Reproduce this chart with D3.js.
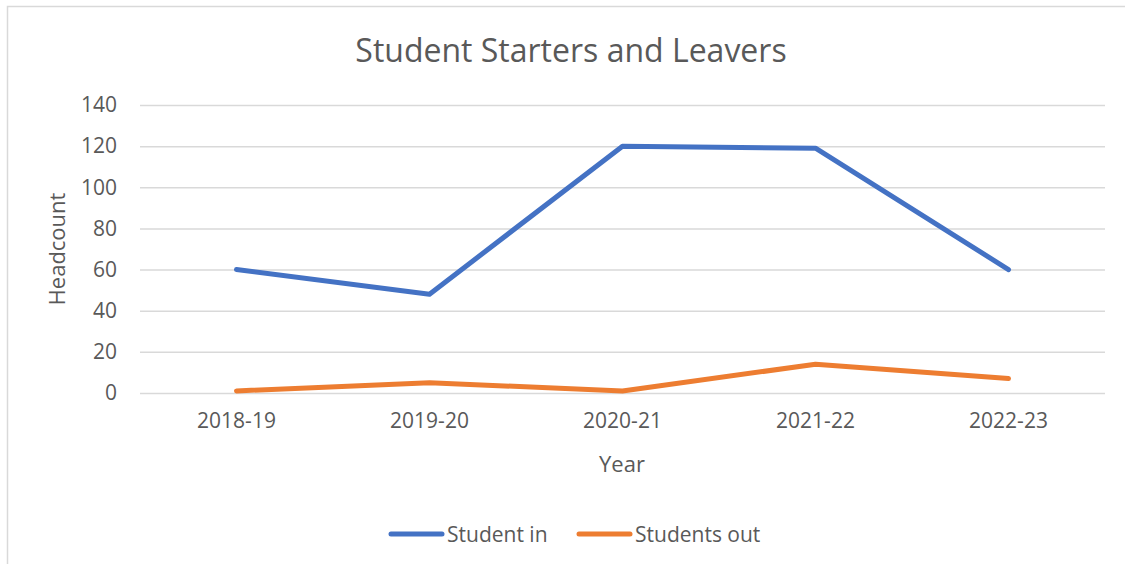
<!DOCTYPE html>
<html>
<head>
<meta charset="utf-8">
<script src="https://cdn.jsdelivr.net/npm/d3@7"></script>
<style>
  body { margin: 0; background: #fff; }
  text { font-family: "Open Sans", "Noto Sans", sans-serif; fill: #595959; }
</style>
</head>
<body>
<div id="chart"></div>
<script>
var years = ["2018-19", "2019-20", "2020-21", "2021-22", "2022-23"];
var studentIn = [60, 48, 120, 119, 60];
var studentsOut = [1, 5, 1, 14, 7];
var yTicks = [0, 20, 40, 60, 80, 100, 120, 140];

var svgWidth = 1125;
var svgHeight = 564;

var margin = { top: 105, right: 20, bottom: 171, left: 140 };
var width = 1105 - margin.left;
var height = 393 - margin.top;

var svg = d3.select("#chart")
    .append("svg")
    .attr("width", svgWidth)
    .attr("height", svgHeight);

// outer chart border (cut off at right and bottom)
svg.append("rect")
    .attr("x", 7.5)
    .attr("y", 6.5)
    .attr("width", 1200)
    .attr("height", 700)
    .attr("fill", "none")
    .attr("stroke", "#d9d9d9")
    .attr("stroke-width", 1.5);

var chartGroup = svg.append("g")
    .attr("transform", `translate(${margin.left}, ${margin.top})`);

var xScale = d3.scaleBand()
    .domain(years)
    .range([0, width]);

var yScale = d3.scaleLinear()
    .domain([0, 140])
    .range([height, 0]);

// gridlines + y tick labels
var leftAxis = d3.axisLeft(yScale)
    .tickValues(yTicks)
    .tickSize(-width)
    .tickPadding(23);

var yAxis = chartGroup.append("g").call(leftAxis);
yAxis.select(".domain").remove();
yAxis.selectAll("line").attr("stroke", "#d9d9d9").attr("stroke-width", 1.5);
yAxis.selectAll("text")
    .attr("font-size", "21px")
    .attr("fill", "#595959")
    .style("font-family", "'Open Sans', sans-serif");

// x tick labels
var bottomAxis = d3.axisBottom(xScale)
    .tickSize(0)
    .tickPadding(20);

var xAxis = chartGroup.append("g")
    .attr("transform", `translate(0, ${height})`)
    .call(bottomAxis);
xAxis.select(".domain").remove();
xAxis.selectAll("text")
    .attr("font-size", "21px")
    .attr("fill", "#595959")
    .style("font-family", "'Open Sans', sans-serif");

// lines
var line = d3.line()
    .x((d, i) => xScale(years[i]) + xScale.bandwidth() / 2)
    .y(d => yScale(d));

var series = [
    { name: "Student in", values: studentIn, color: "#4472c4" },
    { name: "Students out", values: studentsOut, color: "#ed7d31" }
];

chartGroup.selectAll(".series")
    .data(series)
    .enter()
    .append("path")
    .attr("d", d => line(d.values))
    .attr("fill", "none")
    .attr("stroke", d => d.color)
    .attr("stroke-width", 5)
    .attr("stroke-linecap", "round")
    .attr("stroke-linejoin", "round");

// title
svg.append("text")
    .attr("x", 571)
    .attr("y", 62)
    .attr("text-anchor", "middle")
    .attr("font-size", "32px")
    .text("Student Starters and Leavers");

// axis titles
svg.append("text")
    .attr("transform", "translate(65, 249) rotate(-90)")
    .attr("text-anchor", "middle")
    .attr("font-size", "22px")
    .text("Headcount");

svg.append("text")
    .attr("x", 622)
    .attr("y", 472)
    .attr("text-anchor", "middle")
    .attr("font-size", "22px")
    .text("Year");

// legend
var legendX = [389, 577];
var legend = svg.selectAll(".legend")
    .data(series)
    .enter()
    .append("g")
    .attr("transform", (d, i) => `translate(${legendX[i]}, 534)`);

legend.append("line")
    .attr("x1", 2)
    .attr("x2", 53)
    .attr("stroke", d => d.color)
    .attr("stroke-width", 5)
    .attr("stroke-linecap", "round");

legend.append("text")
    .attr("x", 58)
    .attr("y", 8)
    .attr("font-size", "21px")
    .text(d => d.name);
</script>
</body>
</html>
